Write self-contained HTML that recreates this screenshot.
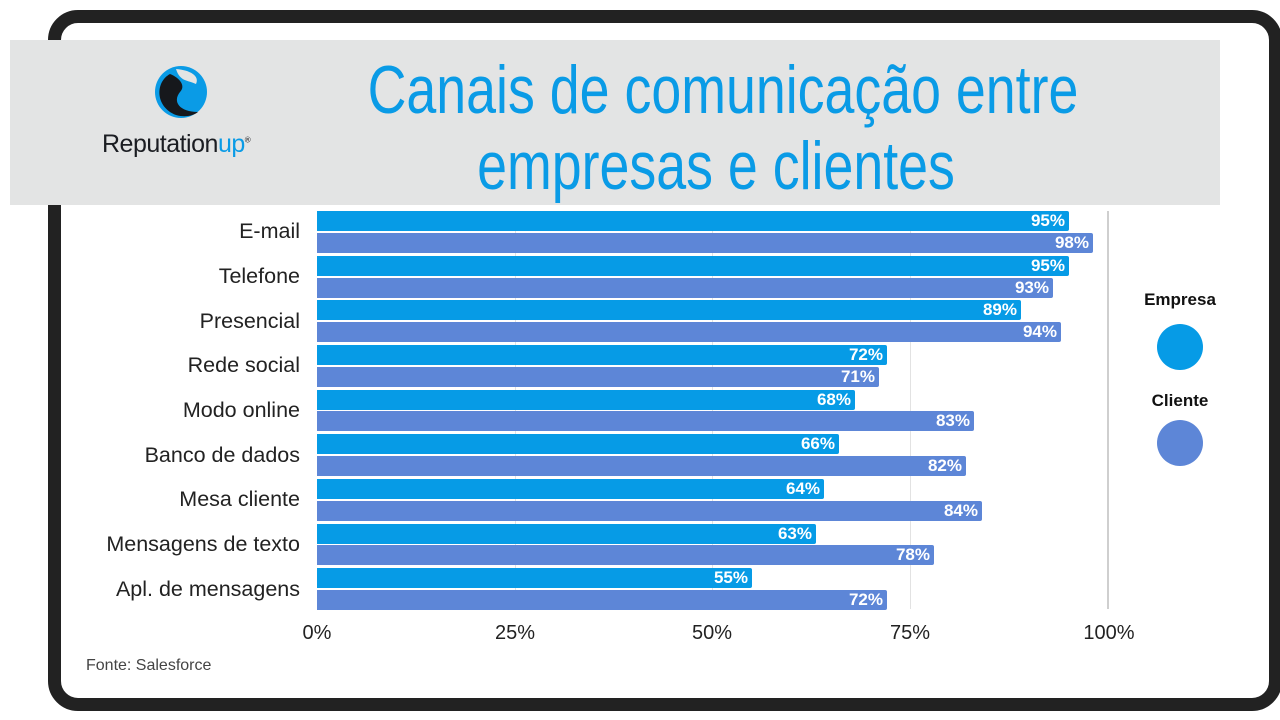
<!DOCTYPE html>
<html><head><meta charset="utf-8"><style>
*{margin:0;padding:0;box-sizing:border-box}
body{width:1280px;height:720px;background:#fff;position:relative;overflow:hidden;font-family:"Liberation Sans",sans-serif}
.frame{position:absolute;left:48px;top:10px;width:1234px;height:701px;border:13px solid #222;border-radius:30px;background:#fff}
.band{position:absolute;left:10px;top:40px;width:1210px;height:165px;background:#e3e4e4}
.title{position:absolute;left:123px;width:1200px;text-align:center;white-space:nowrap;color:#0a9be6;font-size:68px;line-height:1;transform:scaleX(0.79);transform-origin:600px 0}
.lab{position:absolute;right:980px;font-size:21.5px;color:#222;text-align:right;white-space:nowrap}
.bar{position:absolute;left:317px;height:20px;color:#fff;font-weight:bold;font-size:17px;text-align:right;padding-right:4px;line-height:20px;border-radius:0 2px 2px 0}
.e{background:#069be6}.c{background:#5d86d7}
.grid{position:absolute;top:211px;width:1px;height:398px;background:#e2e2e2}
.tick{position:absolute;top:622px;font-size:20px;color:#222;width:80px;text-align:center}
.leg{position:absolute;font-weight:bold;font-size:17px;color:#111;width:120px;text-align:center;left:1120px}
.dot{position:absolute;left:1157px;width:46px;height:46px;border-radius:50%}
</style></head><body>
<div class="frame"></div>
<div class="band"></div>
<svg style="position:absolute;left:150px;top:62px" width="62" height="60" viewBox="0 0 62 60">
<circle cx="31" cy="30" r="26" fill="#0a9be6"/>
<path d="M20 12 C5 20 5 45 26 53 C40 57 48 50 48 50 C30 50 22 40 30 30 C36 24 30 16 20 12Z" fill="#16181c"/>
<path d="M26 7 C40 8 50 14 46 22 C38 18 30 20 26 7Z" fill="#e3e4e4"/>
</svg>
<div style="position:absolute;left:102px;top:130px;font-size:25px;color:#1b1d22;letter-spacing:-0.5px">Reputation<span style="color:#0a9be6">up</span><sup style="font-size:8px">®</sup></div>
<div class="title" style="top:56px">Canais de comunicação entre</div>
<div class="title" style="top:132px;left:116px">empresas e clientes</div>

<div class="grid" style="left:515px"></div>
<div class="grid" style="left:712px"></div>
<div class="grid" style="left:910px"></div>
<div class="grid" style="left:1107px;width:2px;background:#cfcfcf"></div>

<div class="lab" style="top:219px">E-mail</div>
<div class="lab" style="top:264px">Telefone</div>
<div class="lab" style="top:309px">Presencial</div>
<div class="lab" style="top:353px">Rede social</div>
<div class="lab" style="top:398px">Modo online</div>
<div class="lab" style="top:443px">Banco de dados</div>
<div class="lab" style="top:487px">Mesa cliente</div>
<div class="lab" style="top:532px">Mensagens de texto</div>
<div class="lab" style="top:577px">Apl. de mensagens</div>

<div class="bar e" style="top:211px;width:752px">95%</div>
<div class="bar c" style="top:233px;width:776px">98%</div>
<div class="bar e" style="top:256px;width:752px">95%</div>
<div class="bar c" style="top:278px;width:736px">93%</div>
<div class="bar e" style="top:300px;width:704px">89%</div>
<div class="bar c" style="top:322px;width:744px">94%</div>
<div class="bar e" style="top:345px;width:570px">72%</div>
<div class="bar c" style="top:367px;width:562px">71%</div>
<div class="bar e" style="top:390px;width:538px">68%</div>
<div class="bar c" style="top:411px;width:657px">83%</div>
<div class="bar e" style="top:434px;width:522px">66%</div>
<div class="bar c" style="top:456px;width:649px">82%</div>
<div class="bar e" style="top:479px;width:507px">64%</div>
<div class="bar c" style="top:501px;width:665px">84%</div>
<div class="bar e" style="top:524px;width:499px">63%</div>
<div class="bar c" style="top:545px;width:617px">78%</div>
<div class="bar e" style="top:568px;width:435px">55%</div>
<div class="bar c" style="top:590px;width:570px">72%</div>

<div class="tick" style="left:277px">0%</div>
<div class="tick" style="left:475px">25%</div>
<div class="tick" style="left:672px">50%</div>
<div class="tick" style="left:870px">75%</div>
<div class="tick" style="left:1069px">100%</div>

<div class="leg" style="top:290px">Empresa</div>
<div class="dot" style="top:324px;background:#069be6"></div>
<div class="leg" style="top:391px">Cliente</div>
<div class="dot" style="top:420px;background:#5d86d7"></div>

<div style="position:absolute;left:86px;top:657px;font-size:16px;color:#444">Fonte: Salesforce</div>
</body></html>
